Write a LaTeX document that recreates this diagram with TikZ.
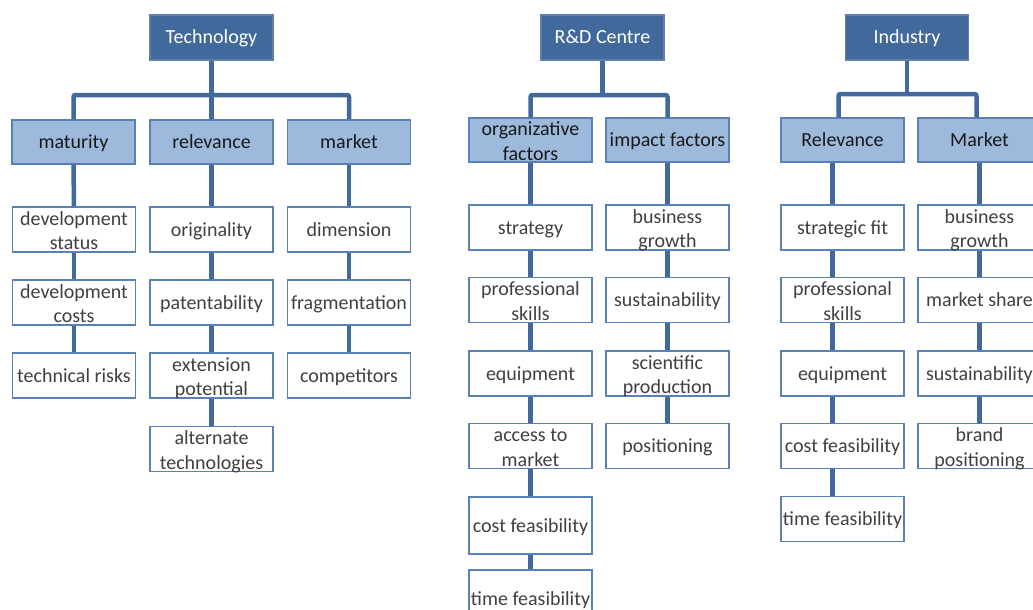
\documentclass[tikz,border=0pt]{standalone}
\usepackage{fontspec}
\setmainfont{Carlito}
\definecolor{topfill}{HTML}{41699C}
\definecolor{midfill}{HTML}{9DB9DC}
\definecolor{edgecol}{HTML}{5A80B8}
\definecolor{conncol}{HTML}{41699C}
\definecolor{leaftext}{HTML}{404040}
\newcommand\one[1]{\raisebox{-6.5pt}[0pt][0pt]{#1}}
\newcommand\two[2]{\raisebox{-20pt}[0pt][0pt]{\begin{tabular}[b]{@{}c@{}}#1\\#2\end{tabular}}}
\begin{document}
\begin{tikzpicture}[x=1pt,y=-1pt,
  base/.style={draw=edgecol, line width=1.3pt, inner sep=0pt,
    font=\fontsize{20}{24.5}\selectfont, minimum width=123pt},
  topbox/.style={base, fill=topfill, draw=topfill!85!white, text=white, minimum height=45pt},
  midbox/.style={base, fill=midfill, text=black!90, minimum height=44pt},
  leaf/.style={base, fill=white, text=leaftext, minimum height=45pt},
  conn/.style={draw=conncol, line width=4.5pt},
]
\useasboundingbox (0,0) rectangle (1033,610);
\clip (0,0) rectangle (1033,610);
\fill[white] (0,0) rectangle (1033,610);

% ---------- Technology ----------
\node[topbox] (tech) at (211.5,37.5) {\one{Technology}};
\node[midbox] (mat) at (73.5,142) {\one{maturity}};
\node[midbox] (rel) at (211.5,142) {\one{relevance}};
\node[midbox] (mkt) at (349,142) {\one{market}};

\node[leaf] (ds) at (74,229.5) {\two{development}{status}};
\node[leaf] (dc) at (74,302.5) {\two{development}{costs}};
\node[leaf] (tr) at (74,375.5) {\one{technical risks}};

\node[leaf] (ori) at (211.5,229.5) {\one{originality}};
\node[leaf] (pat) at (211.5,302.5) {\one{patentability}};
\node[leaf] (ext) at (211.5,375.5) {\two{extension}{potential}};
\node[leaf] (alt) at (211.5,449) {\two{alternate}{technologies}};

\node[leaf] (dim) at (349,229.5) {\one{dimension}};
\node[leaf] (fra) at (349,302.5) {\one{fragmentation}};
\node[leaf] (com) at (349,375.5) {\one{competitors}};

\draw[conn] (tech.south) -- (tech.south |- 0,95);
\draw[conn, rounded corners=2pt] (mat.north) |- (tech.south |- 0,95) -| (mkt.north);
\draw[conn] (tech.south |- 0,95) -- (rel.north);
\draw[conn] (mat.south) -- (ds.north);
\draw[conn] (ds.south) -- (dc.north);
\draw[conn] (dc.south) -- (tr.north);
\draw[conn] (rel.south) -- (ori.north);
\draw[conn] (ori.south) -- (pat.north);
\draw[conn] (pat.south) -- (ext.north);
\draw[conn] (ext.south) -- (alt.north);
\draw[conn] (mkt.south) -- (dim.north);
\draw[conn] (dim.south) -- (fra.north);
\draw[conn] (fra.south) -- (com.north);

% ---------- R&D Centre ----------
\node[topbox] (rd) at (602.5,37.5) {\one{R\&D Centre}};
\node[midbox] (org) at (530.5,140) {\two{organizative}{factors}};
\node[midbox] (imp) at (667.5,140) {\one{impact factors}};

\node[leaf] (str) at (530.5,227.5) {\one{strategy}};
\node[leaf] (ps1) at (530.5,300) {\two{professional}{skills}};
\node[leaf] (eq1) at (530.5,373.5) {\one{equipment}};
\node[leaf] (acc) at (530.5,446) {\two{access to}{market}};
\node[leaf, minimum height=57pt] (cf1) at (530.5,525.5) {\one{cost feasibility}};
\node[leaf, minimum height=57pt] (tf1) at (530.5,598.5) {\one{time feasibility}};

\node[leaf] (bg1) at (667.5,227.5) {\two{business}{growth}};
\node[leaf] (su1) at (667.5,300) {\one{sustainability}};
\node[leaf] (sci) at (667.5,373.5) {\two{scientific}{production}};
\node[leaf] (pos) at (667.5,446) {\one{positioning}};

\draw[conn] (rd.south) -- (rd.south |- 0,95);
\draw[conn, rounded corners=2pt] (org.north) |- (rd.south |- 0,95) -| (imp.north);
\draw[conn] (org.south) -- (str.north);
\draw[conn] (str.south) -- (ps1.north);
\draw[conn] (ps1.south) -- (eq1.north);
\draw[conn] (eq1.south) -- (acc.north);
\draw[conn] (acc.south) -- (cf1.north);
\draw[conn] (cf1.south) -- (tf1.north);
\draw[conn] (imp.south) -- (bg1.north);
\draw[conn] (bg1.south) -- (su1.north);
\draw[conn] (su1.south) -- (sci.north);
\draw[conn] (sci.south) -- (pos.north);

% ---------- Industry ----------
\node[topbox] (ind) at (907,37.5) {\one{Industry}};
\node[midbox] (irel) at (842.5,140) {\one{Relevance}};
\node[midbox] (imkt) at (979.5,140) {\one{Market}};

\node[leaf] (sf) at (842.5,227.5) {\one{strategic fit}};
\node[leaf] (ps2) at (842.5,300) {\two{professional}{skills}};
\node[leaf] (eq2) at (842.5,373.5) {\one{equipment}};
\node[leaf] (cf2) at (842.5,446) {\one{cost feasibility}};
\node[leaf] (tf2) at (842.5,519) {\one{time feasibility}};

\node[leaf] (bg2) at (979.5,227.5) {\two{business}{growth}};
\node[leaf] (ms) at (979.5,300) {\one{market share}};
\node[leaf] (su2) at (979.5,373.5) {\one{sustainability}};
\node[leaf] (bp) at (979.5,446) {\two{brand}{positioning}};

\draw[conn] (ind.south) -- (ind.south |- 0,94);
\draw[conn, rounded corners=2pt] ([xshift=-4pt]irel.north) |- (ind.south |- 0,94) -| ([xshift=-3pt]imkt.north);
\draw[conn] ([xshift=-10pt]irel.south) -- ([xshift=-10pt]sf.north);
\draw[conn] ([xshift=-10pt]sf.south) -- ([xshift=-10pt]ps2.north);
\draw[conn] ([xshift=-10pt]ps2.south) -- ([xshift=-10pt]eq2.north);
\draw[conn] ([xshift=-10pt]eq2.south) -- ([xshift=-10pt]cf2.north);
\draw[conn] ([xshift=-10pt]cf2.south) -- ([xshift=-10pt]tf2.north);
\draw[conn] (imkt.south) -- (bg2.north);
\draw[conn] (bg2.south) -- (ms.north);
\draw[conn] (ms.south) -- (su2.north);
\draw[conn] (su2.south) -- (bp.north);
\end{tikzpicture}
\end{document}
